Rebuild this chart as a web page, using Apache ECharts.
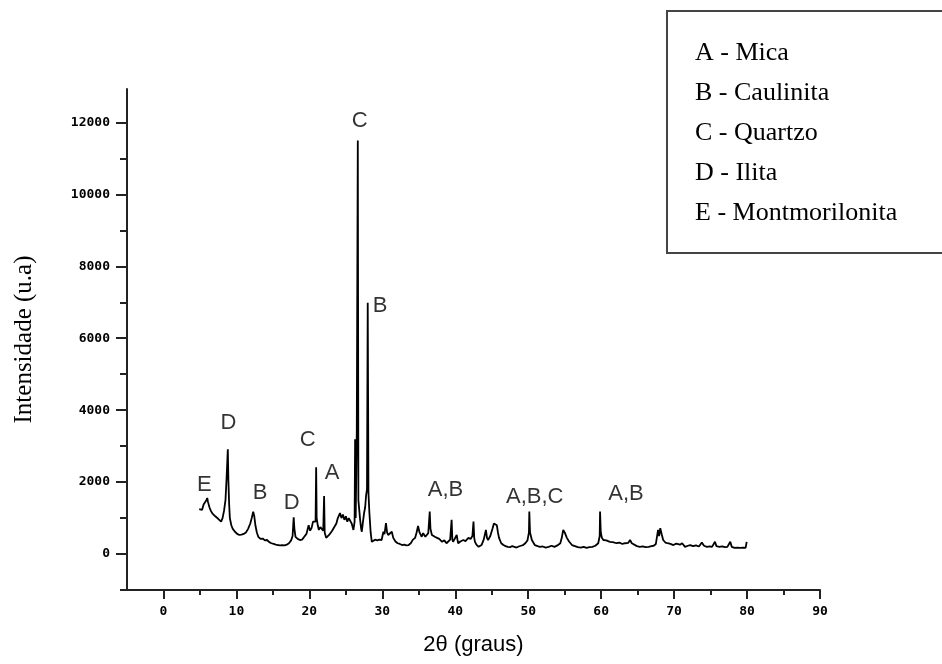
<!DOCTYPE html>
<html>
<head>
<meta charset="utf-8">
<script src="https://cdn.jsdelivr.net/npm/echarts@6/dist/echarts.min.js"></script>
<style>
html,body{margin:0;padding:0;background:#fff;}
#chart{width:942px;height:664px;}
</style>
</head>
<body>
<div id="chart"></div>
<script>
// 2θ (graus) positions of the diffractogram trace
const twoTheta = [4.9,5.1,5.3,5.5,5.7,5.9,6.0,6.1,6.3,6.5,6.7,6.9,7.1,7.3,7.5,7.7,7.9,8.1,8.3,8.5,8.65,8.75,8.82,8.9,9.0,9.1,9.3,9.5,9.8,10.1,10.4,10.7,11.0,11.3,11.6,11.9,12.1,12.3,12.45,12.6,12.8,13.0,13.3,13.6,13.9,14.2,14.5,14.8,15.1,15.4,15.7,16.0,16.3,16.6,16.9,17.2,17.5,17.7,17.85,17.95,18.1,18.4,18.7,19.0,19.3,19.6,19.9,20.1,20.3,20.5,20.7,20.85,20.93,21.0,21.15,21.3,21.5,21.7,21.9,22.02,22.1,22.3,22.5,22.7,22.9,23.1,23.3,23.5,23.7,23.9,24.05,24.2,24.4,24.6,24.8,25.0,25.2,25.4,25.6,25.8,26.04,26.2,26.27,26.35,26.5,26.64,26.72,26.85,26.96,27.1,27.19,27.35,27.5,27.65,27.78,27.9,28.0,28.1,28.23,28.4,28.56,28.8,29.0,29.3,29.6,29.9,30.15,30.3,30.5,30.65,30.8,31.0,31.3,31.5,31.8,32.1,32.4,32.7,33.0,33.3,33.6,33.9,34.2,34.5,34.7,34.9,35.1,35.4,35.6,35.9,36.1,36.3,36.5,36.6,36.8,37.0,37.2,37.5,37.8,38.0,38.2,38.5,38.8,39.0,39.3,39.5,39.6,39.7,39.9,40.2,40.3,40.4,40.7,41.1,41.4,41.8,42.1,42.35,42.5,42.6,42.7,42.9,43.2,43.6,43.9,44.2,44.35,44.5,44.8,45.1,45.3,45.4,45.55,45.7,45.85,46.0,46.3,46.6,46.9,47.2,47.5,47.8,48.1,48.4,48.7,49.0,49.3,49.6,49.9,50.1,50.15,50.25,50.5,50.9,51.3,51.6,52.0,52.4,52.8,53.2,53.6,54.0,54.4,54.6,54.8,55.0,55.3,55.6,56.0,56.4,56.8,57.2,57.6,58.0,58.4,58.8,59.2,59.6,59.8,59.85,59.95,60.1,60.3,60.7,61.2,61.6,62.1,62.5,62.9,63.3,63.7,63.96,64.2,64.4,64.9,65.3,65.7,66.1,66.5,66.9,67.2,67.5,67.8,67.95,68.1,68.3,68.5,68.8,69.1,69.5,69.9,70.3,70.8,71.1,71.5,71.9,72.2,72.6,73.0,73.4,73.8,74.1,74.5,74.9,75.2,75.6,75.8,76.2,76.6,77.0,77.3,77.7,77.9,78.3,78.7,79.1,79.5,79.8,79.95];
// Intensidade (u.a) at each position
const intensity = [1250,1300,1230,1380,1420,1500,1560,1450,1300,1200,1130,1080,1050,1000,980,940,900,1000,1200,1500,2100,2150,2910,2050,1400,1000,800,700,620,560,530,540,560,600,700,850,1000,1180,1050,800,600,480,420,430,380,390,330,300,280,260,250,240,250,240,260,300,380,500,1020,700,480,420,390,400,480,560,800,650,720,900,950,900,2410,1000,800,670,750,700,650,1610,600,450,480,530,560,640,670,780,850,1000,950,1140,1000,1100,950,1050,900,1000,950,850,670,900,3190,1000,3400,11500,1500,1200,950,700,620,900,1140,1300,1640,1800,6990,1700,1140,600,340,360,400,380,400,390,620,550,860,600,530,580,620,450,350,300,280,250,260,240,250,300,400,450,600,780,600,480,580,480,500,580,1180,700,530,560,480,450,420,400,340,380,300,350,400,950,400,340,380,530,400,300,350,390,360,450,420,500,900,450,340,260,200,250,400,670,450,390,500,700,850,900,880,800,600,450,300,250,220,200,190,220,200,180,210,230,250,300,380,600,1180,600,390,250,220,200,210,180,200,230,200,240,300,450,670,600,450,350,250,220,190,180,200,170,190,200,230,300,500,1180,600,450,390,380,340,330,300,320,280,300,310,390,300,250,220,200,210,190,200,220,230,280,670,500,720,550,390,320,300,280,250,290,260,300,200,230,250,220,240,210,320,230,200,210,200,340,220,200,210,190,200,340,200,170,180,170,180,170,340];

// Peak annotations
const peakLabels = ['E','D','B','D','C','A','C','B','A,B','A,B,C','A,B'];
const peakLabelX = [5.6,8.9,13.25,17.57,19.76,23.1,26.9,29.7,38.67,50.9,63.4];
const peakLabelY = [1920,3640,1700,1420,3170,2250,12050,6900,1780,1590,1670];

// Legend entries
const legendLines = ['A - Mica','B - Caulinita','C - Quartzo','D - Ilita','E - Montmorilonita'];

// Axis ticks
const xMajorTicks = [0,10,20,30,40,50,60,70,80,90];
const xMinorTicks = [5,15,25,35,45,55,65,75,85];
const yMajorTicks = [0,2000,4000,6000,8000,10000,12000];
const yMinorTicks = [-1000,1000,3000,5000,7000,9000,11000];

const lineData = twoTheta.map((x, i) => [x, intensity[i]]);
const labelData = peakLabels.map((t, i) => ({ name: t, value: [peakLabelX[i], peakLabelY[i]] }));

const chart = echarts.init(document.getElementById('chart'), null, { renderer: 'canvas' });

const tickFont = { fontFamily: 'DejaVu Sans Mono', fontWeight: 'bold', fontSize: 13, color: '#000', formatter: v => String(v) };
const axisCol = '#222';

const legendGraphics = [{
  type: 'rect',
  shape: { x: 667, y: 11, width: 284, height: 242 },
  style: { fill: '#fff', stroke: '#444', lineWidth: 2 },
  z: 10
}].concat(legendLines.map((t, i) => ({
  type: 'text',
  x: 695,
  y: 53 + i * 40,
  style: { text: t, font: '26px "Liberation Serif"', fill: '#000', verticalAlign: 'middle' },
  z: 11
})));

chart.setOption({
  animation: false,
  backgroundColor: '#fff',
  grid: { left: 127, right: 122, top: 89, bottom: 74, containLabel: false },
  xAxis: [{
    type: 'value', min: -5, max: 90, position: 'bottom',
    name: '2θ (graus)', nameLocation: 'middle', nameGap: 44,
    nameTextStyle: { fontFamily: 'Liberation Sans', fontSize: 22, color: '#000' },
    axisLine: { show: true, onZero: false, lineStyle: { color: axisCol, width: 2 } },
    axisTick: { show: true, inside: false, length: 9, customValues: xMajorTicks, lineStyle: { color: axisCol, width: 2 } },
    axisLabel: { show: true, margin: 15, customValues: xMajorTicks, ...tickFont },
    splitLine: { show: false }
  }, {
    type: 'value', min: -5, max: 90, position: 'bottom',
    axisLine: { show: false, onZero: false },
    axisTick: { show: true, inside: false, length: 5, customValues: xMinorTicks, lineStyle: { color: axisCol, width: 2 } },
    axisLabel: { show: false },
    splitLine: { show: false }
  }],
  yAxis: [{
    type: 'value', min: -1000, max: 12930, position: 'left',
    name: 'Intensidade (u.a)', nameLocation: 'middle', nameGap: 90,
    nameTextStyle: { fontFamily: 'Liberation Serif', fontSize: 25, color: '#000' },
    axisLine: { show: true, onZero: false, lineStyle: { color: axisCol, width: 2 } },
    axisTick: { show: true, inside: false, length: 11, customValues: yMajorTicks, lineStyle: { color: axisCol, width: 2 } },
    axisLabel: { show: true, margin: 17, customValues: yMajorTicks, ...tickFont },
    splitLine: { show: false }
  }, {
    type: 'value', min: -1000, max: 12930, position: 'left',
    axisLine: { show: false, onZero: false },
    axisTick: { show: true, inside: false, length: 7, customValues: yMinorTicks, lineStyle: { color: axisCol, width: 2 } },
    axisLabel: { show: false },
    splitLine: { show: false }
  }],
  series: [{
    type: 'line',
    xAxisIndex: 0, yAxisIndex: 0,
    data: lineData,
    showSymbol: false,
    symbol: 'none',
    lineStyle: { color: '#000', width: 1.8 },
    z: 3
  }, {
    type: 'scatter',
    xAxisIndex: 0, yAxisIndex: 0,
    data: labelData,
    symbolSize: 0,
    label: {
      show: true, position: 'inside',
      formatter: p => p.name,
      fontFamily: 'Liberation Sans', fontSize: 22, color: '#000',
      textBorderWidth: 0
    },
    silent: true,
    z: 4
  }],
  graphic: legendGraphics
});
</script>
</body>
</html>
